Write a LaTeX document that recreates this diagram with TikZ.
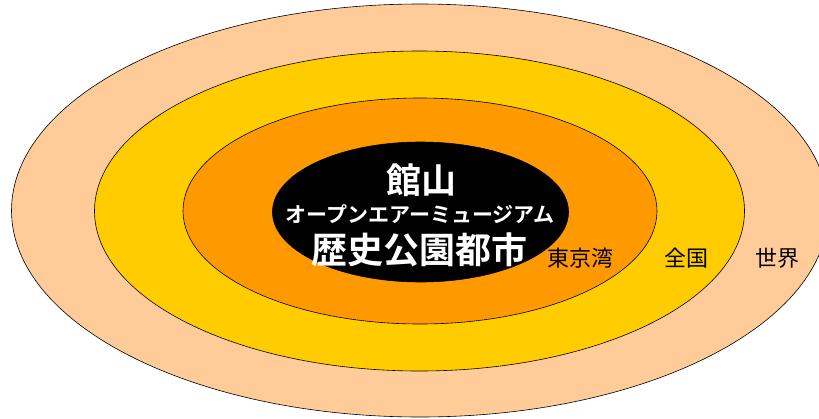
\documentclass[tikz,border=0pt]{standalone}
\usepackage{fontspec}
\newfontfamily\jp{Noto Sans CJK JP}
\newfontfamily\jpb{Noto Sans CJK JP Bold}
\usetikzlibrary{shapes.geometric}
\definecolor{peach}{HTML}{FFCC99}
\definecolor{gold}{HTML}{FFCC00}
\definecolor{amber}{HTML}{FF9900}
\tikzset{
  ring/.style={ellipse, draw=black, line width=0.6pt, inner sep=0pt},
  title/.style={text=white, font=\jpb, inner sep=0pt},
  zone/.style={text=black, font=\jp\fontsize{22}{22}\selectfont, inner sep=0pt}
}
\begin{document}
\begin{tikzpicture}[x=1pt,y=-1pt]
\useasboundingbox (0,0) rectangle (819,418);
\clip (0,0) rectangle (819,418);
\node[ring, fill=peach, minimum width=817pt, minimum height=413pt] (world) at (420,210.5) {};
\node[ring, fill=gold, minimum width=650pt, minimum height=320pt] (nation) at (419.5,211) {};
\node[ring, fill=amber, minimum width=474pt, minimum height=226pt] (bay) at (420,211) {};
\node[ring, fill=black, minimum width=296pt, minimum height=140pt] (core) at (420.5,212) {};
\node[title, font=\jpb\fontsize{35}{35}\selectfont] (t1) at (421,180) {館山};
\node[title, font=\jpb\fontsize{21}{21}\selectfont] (t2) at (420,214) {オープンエアーミュージアム};
\node[title, font=\jpb\fontsize{36}{36}\selectfont] (t3) at (419,250) {歴史公園都市};
\node[zone] (l1) at (580,258) {東京湾};
\node[zone] (l2) at (686,258) {全国};
\node[zone] (l3) at (777,258) {世界};
\end{tikzpicture}
\end{document}
